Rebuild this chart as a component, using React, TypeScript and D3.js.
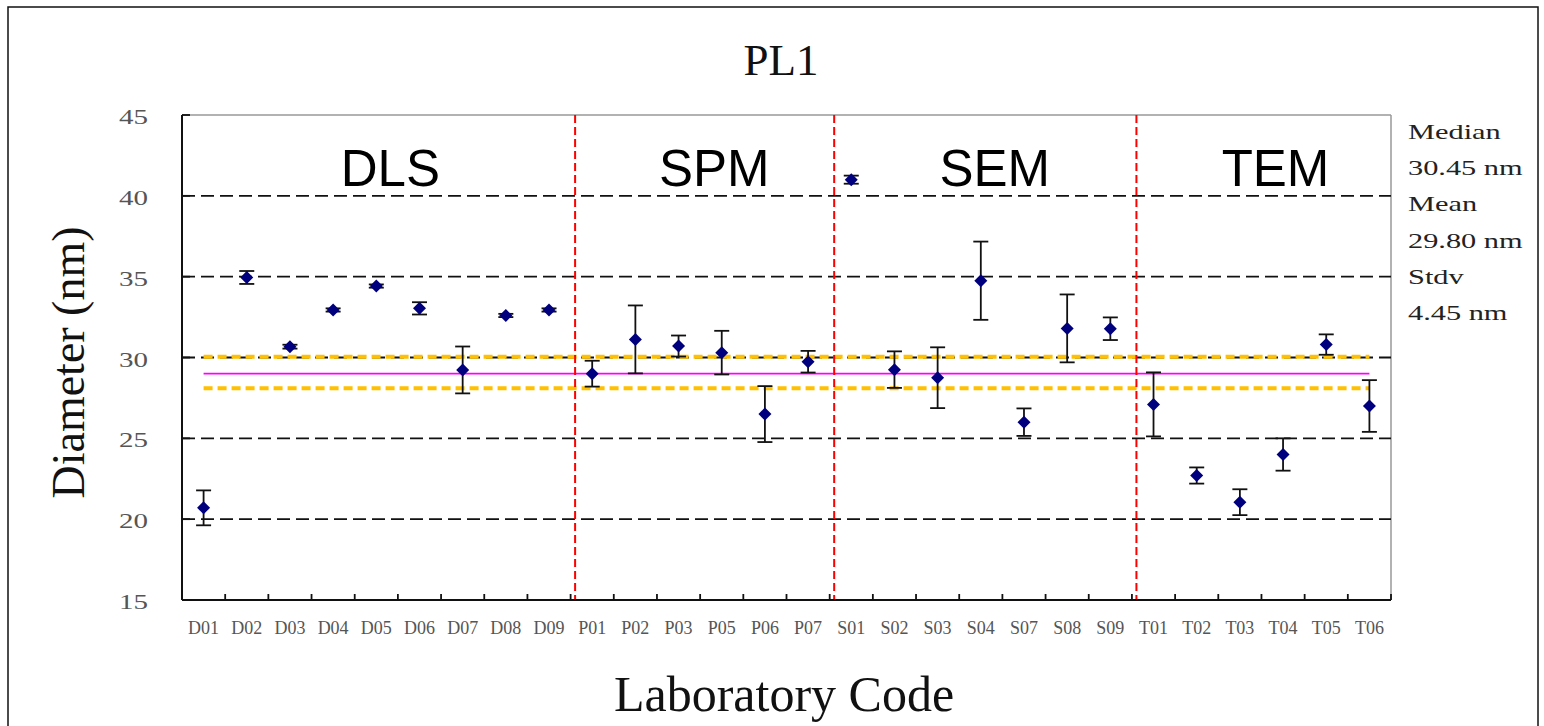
import * as d3 from "d3";

const width = 1544;
const height = 726;

const marginLeft = 182;
const plotRight = 1391;
const marginTop = 115;
const plotBottom = 600;

// laboratory codes and measured diameters (nm) with +/- error
const labCodes = [
  "D01", "D02", "D03", "D04", "D05", "D06", "D07", "D08", "D09",
  "P01", "P02", "P03", "P05", "P06", "P07",
  "S01", "S02", "S03", "S04", "S07", "S08", "S09",
  "T01", "T02", "T03", "T04", "T05", "T06",
];
const diameters = [
  20.7, 34.95, 30.67, 32.94, 34.42, 33.04, 29.23, 32.6, 32.94,
  29.0, 31.12, 30.71, 30.3, 26.5, 29.74,
  41.0, 29.25, 28.75, 34.75, 26.0, 31.8, 31.78,
  27.1, 22.7, 21.05, 24.0, 30.8, 27.0,
];
const errors = [
  1.08, 0.4, 0.12, 0.1, 0.1, 0.38, 1.45, 0.1, 0.1,
  0.8, 2.1, 0.65, 1.35, 1.73, 0.67,
  0.25, 1.13, 1.88, 2.42, 0.85, 2.1, 0.7,
  1.98, 0.5, 0.8, 1.0, 0.63, 1.6,
];

const methods = ["DLS", "SPM", "SEM", "TEM"];
const methodCounts = [9, 6, 7, 6];

const yTicks = [15, 20, 25, 30, 35, 40, 45];
const gridValues = [20, 25, 30, 35, 40];

const refCenter = 29.0;
const refUpper = 30.05;
const refLower = 28.1;

const statLines = ["Median", "30.45 nm", "Mean", "29.80 nm", "Stdv", "4.45 nm"];

const serif = "'Liberation Serif', 'Times New Roman', serif";
const sans = "'Liberation Sans', Arial, sans-serif";

const App = () => {
  const xScale = d3
    .scaleBand()
    .domain(labCodes)
    .range([marginLeft, plotRight])
    .padding(0);
  const bw = xScale.bandwidth();
  const xIdx = d3.scaleLinear().domain([0, labCodes.length]).range([marginLeft, plotRight]);

  const yScale = d3.scaleLinear().domain([15, 45]).range([plotBottom, marginTop]);

  // group boundaries (index where each method starts)
  const starts = Array.from(d3.cumsum([0, ...methodCounts]));
  const separators = starts.slice(1, -1);

  const xFirst = xScale(labCodes[0])! + bw / 2;
  const xLast = xScale(labCodes[labCodes.length - 1])! + bw / 2;

  const diamond = (cx: number, cy: number, r: number) => {
    const p = d3.path();
    p.moveTo(cx, cy - r);
    p.lineTo(cx + r, cy);
    p.lineTo(cx, cy + r);
    p.lineTo(cx - r, cy);
    p.closePath();
    return p.toString();
  };

  return (
    <div style={{ position: "absolute", left: 0, top: 0, width, height, overflow: "hidden" }}>
      <svg width={width} height={height} viewBox={`0 0 ${width} ${height}`} style={{ display: "block", background: "#fff" }}>
        {/* outer frame */}
        <rect x={8} y={7} width={1530} height={740} fill="none" stroke="#111" strokeWidth={1.5} />

        <text x={781} y={75} textAnchor="middle" fontFamily={serif} fontSize={45} fill="#111">
          PL1
        </text>

        {/* plot frame top / right */}
        <line x1={marginLeft} x2={plotRight} y1={marginTop} y2={marginTop} stroke="#999" strokeWidth={1.5} />
        <line x1={plotRight} x2={plotRight} y1={marginTop} y2={plotBottom} stroke="#999" strokeWidth={1.5} />

        {/* dashed grid */}
        {gridValues.map((v) => (
          <line
            key={v}
            x1={marginLeft}
            x2={plotRight}
            y1={yScale(v)}
            y2={yScale(v)}
            stroke="#111"
            strokeWidth={1.8}
            strokeDasharray="13,6"
          />
        ))}

        {/* reference band */}
        {[refUpper, refLower].map((v) => (
          <line
            key={v}
            x1={xFirst}
            x2={xLast}
            y1={yScale(v)}
            y2={yScale(v)}
            stroke="#FFC000"
            strokeWidth={4}
            strokeDasharray="9,5"
          />
        ))}
        <line x1={xFirst} x2={xLast} y1={yScale(refCenter)} y2={yScale(refCenter)} stroke="#FF00FF" strokeWidth={1.6} />

        {/* method separators */}
        {separators.map((s) => (
          <line
            key={s}
            x1={xIdx(s) + 4.5}
            x2={xIdx(s) + 4.5}
            y1={marginTop}
            y2={plotBottom}
            stroke="#FF0000"
            strokeWidth={2}
            strokeDasharray="8,4"
          />
        ))}

        {/* method labels */}
        {methods.map((m, i) => (
          <text
            key={m}
            x={xIdx((starts[i] + starts[i + 1]) / 2) + 14}
            y={186}
            textAnchor="middle"
            fontFamily={sans}
            fontSize={51}
            fill="#000"
          >
            {m}
          </text>
        ))}

        {/* error bars and points */}
        {labCodes.map((c, i) => {
          const cx = xScale(c)! + bw / 2;
          const yHi = yScale(diameters[i] + errors[i]);
          const yLo = yScale(diameters[i] - errors[i]);
          return (
            <g key={c}>
              <line x1={cx} x2={cx} y1={yHi} y2={yLo} stroke="#111" strokeWidth={1.8} />
              <line x1={cx - 7.5} x2={cx + 7.5} y1={yHi} y2={yHi} stroke="#111" strokeWidth={1.8} />
              <line x1={cx - 7.5} x2={cx + 7.5} y1={yLo} y2={yLo} stroke="#111" strokeWidth={1.8} />
              <path d={diamond(cx, yScale(diameters[i]), 6.5)} fill="#00007F" />
            </g>
          );
        })}

        {/* axes */}
        <line x1={marginLeft} x2={marginLeft} y1={marginTop} y2={plotBottom} stroke="#111" strokeWidth={2} />
        <line x1={marginLeft} x2={plotRight} y1={plotBottom} y2={plotBottom} stroke="#111" strokeWidth={2} />
        {yTicks.map((t) => (
          <g key={t}>
            <line x1={marginLeft} x2={marginLeft + 8} y1={yScale(t)} y2={yScale(t)} stroke="#111" strokeWidth={1.8} />
            <g transform={`translate(148,${yScale(t) + 9}) scale(1.45,1)`}>
              <text textAnchor="end" fontFamily={serif} fontSize={20} fill="#555">
                {t}
              </text>
            </g>
          </g>
        ))}
        {d3.range(labCodes.length + 1).map((i) => (
          <line key={i} x1={xIdx(i)} x2={xIdx(i)} y1={plotBottom} y2={plotBottom - 6} stroke="#111" strokeWidth={1.8} />
        ))}
        {labCodes.map((c) => (
          <text
            key={c}
            x={xScale(c)! + bw / 2}
            y={634}
            textAnchor="middle"
            fontFamily={serif}
            fontSize={18}
            fill="#555"
          >
            {c}
          </text>
        ))}

        <text x={784} y={711} textAnchor="middle" fontFamily={serif} fontSize={50} fill="#111">
          Laboratory Code
        </text>
        <text
          transform={`translate(84,${(marginTop + plotBottom) / 2 + 5}) rotate(-90)`}
          textAnchor="middle"
          fontFamily={serif}
          fontSize={46}
          fill="#111"
        >
          Diameter (nm)
        </text>

        {/* summary statistics */}
        {statLines.map((s, i) => (
          <g key={s} transform={`translate(1408,${139 + i * 36.2}) scale(1.38,1)`}>
            <text fontFamily={serif} fontSize={22} fill="#222">
              {s}
            </text>
          </g>
        ))}
      </svg>
    </div>
  );
};

export default App;
